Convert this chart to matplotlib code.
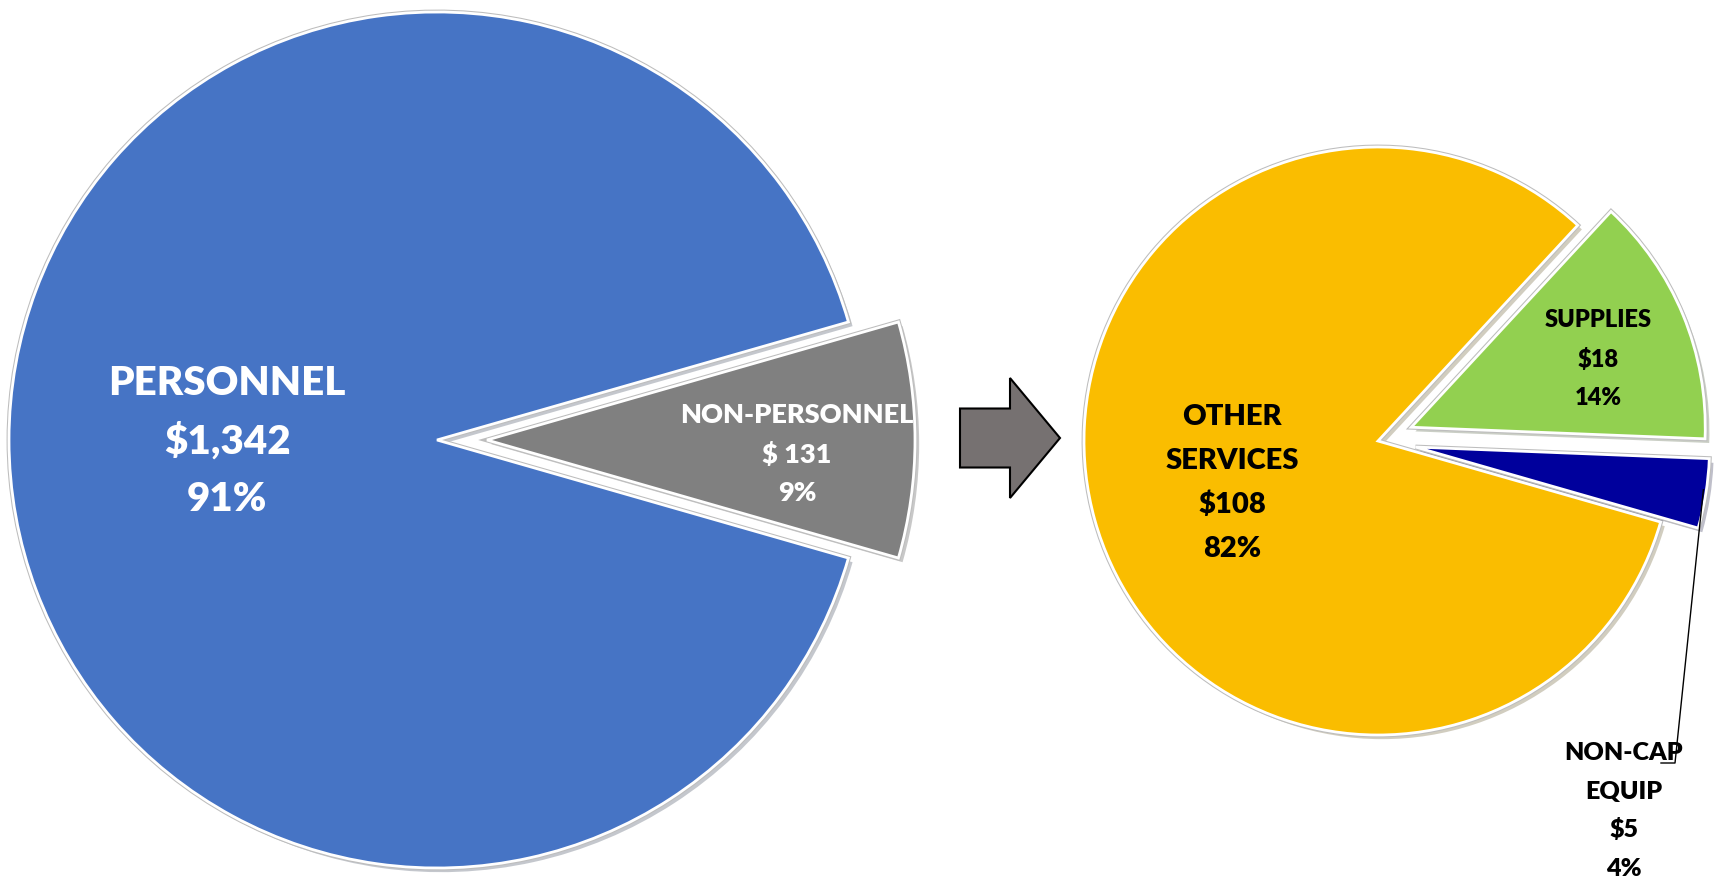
import numpy as np
import matplotlib.pyplot as plt
import matplotlib.patches as patches
import matplotlib.patheffects as pe

plt.rcParams['font.family'] = ['Lato', 'DejaVu Sans']

# budget split
big_names = ['PERSONNEL', 'NON-PERSONNEL']
big_values = [1342, 131]
big_amounts = ['$1,342', '$ 131']
big_colors = ['#4674C5', '#808080']

# breakdown of non-personnel
small_names = ['OTHER\nSERVICES', 'SUPPLIES', 'NON-CAP\nEQUIP']
small_values = [108, 18, 5]
small_amounts = ['$108', '$18', '$5']
small_colors = ['#FABD00', '#92D050', '#00009C']

W, H = 1716, 880
fig = plt.figure(figsize=(W / 100, H / 100), dpi=100)
ax = fig.add_axes([0, 0, 1, 1])

fx = [pe.SimplePatchShadow(offset=(3, -3), alpha=0.25),
      pe.withStroke(linewidth=3.5, foreground='#BDBDBD')]

# left pie, grey slice centred on 0 deg (explode is in pixels here)
grey_frac = big_values[1] / sum(big_values)
w1, _ = ax.pie(big_values, colors=big_colors, startangle=180 * grey_frac,
               explode=[0, 50], radius=428, center=(437, H - 440),
               wedgeprops=dict(edgecolor='white', linewidth=2))
for w in w1:
    w.set_path_effects(fx)

# right pie
start = -16
w2, _ = ax.pie(small_values, colors=small_colors, startangle=start,
               counterclock=False, explode=[0, 36, 38], radius=294,
               center=(1378, H - 441),
               wedgeprops=dict(edgecolor='white', linewidth=2))
for w in w2:
    w.set_path_effects(fx)

arrow = patches.FancyArrow(960, H - 438, 100, 0, width=59, head_width=120,
                           head_length=50, length_includes_head=True,
                           facecolor='#767171', edgecolor='black', linewidth=1.5)
ax.add_patch(arrow)


def pct(v, vals):
    return f"{round(100 * v / sum(vals))}%"


def put_label(lines, x, y0, step, size, color):
    for i, s in enumerate(lines):
        ax.text(x, H - (y0 + i * step), s, ha='center', va='center',
                fontsize=size, fontweight='heavy', color=color)


# label placement: (x, first line y, line step, font size, colour)
big_pos = [(227, 383, 58, 29, 'white'), (797, 415, 39, 19.5, 'white')]
small_pos = [(1232, 417, 44, 21, 'black'), (1598, 320, 39, 17, 'black'),
             (1624, 753, 38.5, 18, 'black')]

for name, amt, v, p in zip(big_names, big_amounts, big_values, big_pos):
    put_label(name.split('\n') + [amt, pct(v, big_values)], p[0], p[1], p[2], p[3], p[4])
for name, amt, v, p in zip(small_names, small_amounts, small_values, small_pos):
    put_label(name.split('\n') + [amt, pct(v, small_values)], p[0], p[1], p[2], p[3], p[4])

# leader line from the small blue slice to its label
bw = w2[2]
ang = np.deg2rad(bw.theta1 + 0.55 * (bw.theta2 - bw.theta1))
cx, cy = bw.center
x0, y0 = cx + bw.r * 0.99 * np.cos(ang), cy + bw.r * 0.99 * np.sin(ang)
ax.plot([x0, 1675, 1661], [y0, H - 763, H - 763], color='black', linewidth=1)

ax.set_xlim(0, W)
ax.set_ylim(0, H)
ax.set_aspect('equal')
ax.axis('off')
fig.savefig('out.png', dpi=100)
